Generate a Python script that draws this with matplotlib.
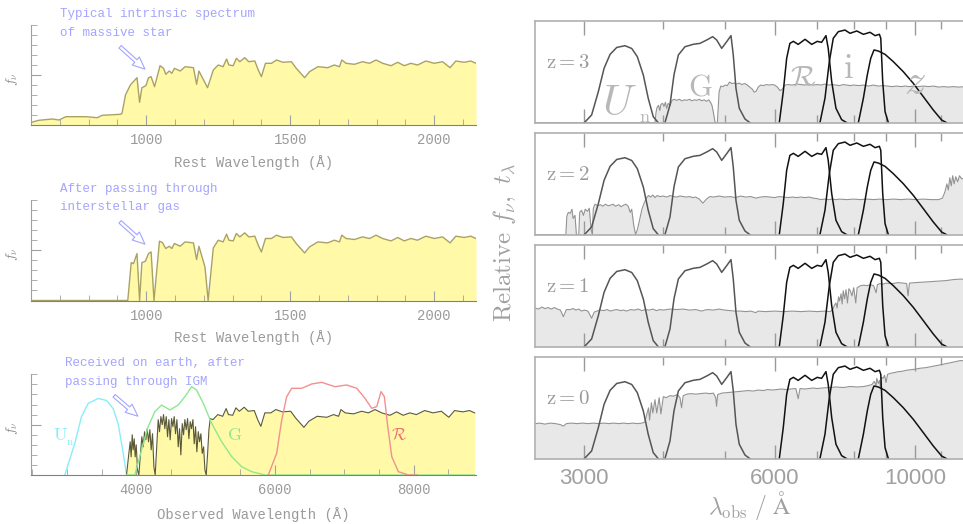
import matplotlib
matplotlib.use("Agg")
import matplotlib.pyplot as plt
from matplotlib.patches import FancyArrowPatch
from matplotlib.ticker import NullFormatter

plt.rcParams["mathtext.fontset"] = "cm"

# ---- left column: massive star spectrum (rest frame, panel units 0..1) ----
REST_WAVE = [602, 627, 674, 697, 721, 790, 830, 847, 911, 916, 928, 945, 968, 977, 985,
             999, 1008, 1017, 1029, 1048, 1060, 1068, 1080, 1089, 1098, 1118, 1135, 1164,
             1175, 1183, 1213, 1233, 1250, 1267, 1279, 1287, 1302, 1313, 1325, 1342, 1356,
             1377, 1389, 1400, 1414, 1435, 1452, 1475, 1504, 1521, 1550, 1567, 1596, 1630,
             1653, 1671, 1679, 1694, 1723, 1751, 1775, 1798, 1821, 1850, 1873, 1896, 1919,
             1942, 1971, 2000, 2029, 2055, 2075, 2104, 2127, 2145]
REST_FLUX = [0.027, 0.047, 0.06, 0.05, 0.083, 0.083, 0.073, 0.097, 0.107, 0.117, 0.30, 0.40,
             0.473, 0.227, 0.373, 0.393, 0.473, 0.483, 0.383, 0.593, 0.567, 0.507, 0.54, 0.517,
             0.567, 0.54, 0.583, 0.573, 0.407, 0.54, 0.373, 0.55, 0.60, 0.583, 0.66, 0.60,
             0.593, 0.667, 0.633, 0.673, 0.633, 0.64, 0.55, 0.483, 0.617, 0.617, 0.65, 0.627,
             0.633, 0.567, 0.473, 0.533, 0.583, 0.573, 0.60, 0.583, 0.65, 0.617, 0.607, 0.633,
             0.617, 0.65, 0.617, 0.593, 0.627, 0.593, 0.617, 0.60, 0.64, 0.617, 0.633, 0.573,
             0.64, 0.627, 0.64, 0.617]

# blue end after interstellar absorption
ISM_BLUE_WAVE = [600, 936, 948, 956, 968, 977, 985, 997, 1008, 1017, 1027, 1046, 1056, 1068]
ISM_BLUE_FLUX = [0, 0, 0.377, 0.367, 0.467, 0, 0.377, 0.39, 0.467, 0.483, 0, 0.59, 0.577, 0.517]
ISM_LYA_WAVE = [1204, 1215, 1233]
ISM_LYA_FLUX = [0.333, 0, 0.523]

# Lyman-alpha forest as observed (Angstrom)
FOREST_WAVE = [3858, 3892, 3911, 3925, 3940, 3954, 3969, 3983, 3998, 4017, 4036, 4060, 4079,
               4099, 4118, 4137, 4156, 4176, 4195, 4214, 4233, 4253, 4272, 4296, 4315, 4334,
               4354, 4373, 4392, 4411, 4431, 4450, 4469, 4488, 4508, 4527, 4546, 4565, 4585,
               4604, 4623, 4642, 4662, 4681, 4700, 4719, 4739, 4758, 4777, 4796, 4816, 4835,
               4854, 4873, 4893, 4912, 4931, 4950, 4970, 4989, 5008, 5028, 5047, 5066]
FOREST_FLUX = [0, 0.215, 0.33, 0.18, 0.40, 0.25, 0.36, 0.18, 0.30, 0.05, 0, 0.215, 0.38,
               0.28, 0.43, 0.35, 0.46, 0.33, 0.45, 0.25, 0.41, 0.08, 0, 0.31, 0.55, 0.43,
               0.58, 0.50, 0.60, 0.46, 0.58, 0.38, 0.55, 0.35, 0.56, 0.48, 0.58, 0.41, 0.55,
               0.28, 0.46, 0.20, 0.51, 0.40, 0.55, 0.45, 0.56, 0.36, 0.53, 0.46, 0.55, 0.31,
               0.48, 0.23, 0.43, 0.33, 0.41, 0.215, 0.28, 0.05, 0, 0.215, 0.45, 0.56]
Z_LBG = 3.14

# filters drawn in the observed-frame panel
UN_L_WAVE = [2968, 3112, 3209, 3304, 3448, 3570, 3665, 3737, 3795, 3859]
UN_L_T = [0, 0.315, 0.58, 0.71, 0.76, 0.74, 0.66, 0.51, 0.28, 0]
G_L_WAVE = [3860, 3978, 4075, 4170, 4267, 4364, 4484, 4604, 4700, 4797, 4869, 4965, 5086,
            5230, 5375, 5519, 5663, 5856, 8880]
G_L_T = [0, 0, 0.248, 0.48, 0.63, 0.695, 0.646, 0.695, 0.778, 0.877, 0.844, 0.712, 0.513,
         0.331, 0.182, 0.083, 0.033, 0, 0]
R_L_WAVE = [5903, 6024, 6097, 6169, 6241, 6385, 6530, 6674, 6866, 7035, 7180, 7300, 7396,
            7468, 7530, 7578, 7627, 7685, 7780, 7925, 8050]
R_L_T = [0, 0.215, 0.546, 0.778, 0.861, 0.861, 0.904, 0.92, 0.877, 0.894, 0.861, 0.76,
         0.662, 0.679, 0.828, 0.778, 0.48, 0.182, 0.033, 0, 0]

# ---- right column: filter curves (observed Angstrom) ----
UN_WAVE = [3000, 3081, 3157, 3224, 3295, 3376, 3479, 3565, 3638, 3719, 3786, 3856, 3927]
UN_T = [0, 0.076, 0.305, 0.535, 0.672, 0.74, 0.757, 0.73, 0.65, 0.469, 0.24, 0.059, 0]
G_WAVE = [4024, 4098, 4158, 4225, 4328, 4462, 4571, 4684, 4787, 4858, 4947, 5038, 5117,
          5160, 5211, 5274, 5385, 5484]
G_T = [0, 0.174, 0.469, 0.666, 0.747, 0.771, 0.78, 0.813, 0.846, 0.813, 0.731, 0.797,
       0.856, 0.666, 0.338, 0.142, 0.036, 0]
R_WAVE = [6101, 6190, 6267, 6341, 6422, 6536, 6701, 6866, 7006, 7117, 7231, 7291, 7384,
          7499, 7656, 7799]
R_T = [0, 0.305, 0.633, 0.78, 0.80, 0.77, 0.82, 0.77, 0.80, 0.79, 0.856, 0.731, 0.403,
       0.142, 0.03, 0]
I_WAVE = [7074, 7205, 7320, 7426, 7563, 7750, 7893, 8090, 8286, 8490, 8647, 8784, 8828,
          8891, 8967, 9076]
I_T = [0, 0.24, 0.60, 0.83, 0.895, 0.911, 0.879, 0.902, 0.869, 0.889, 0.856, 0.869, 0.83,
       0.403, 0.108, 0]
Z_WAVE = [8136, 8286, 8405, 8511, 8613, 8749, 8967, 9241, 9581, 9938, 10307, 10688, 11019,
          11222]
Z_T = [0, 0.24, 0.469, 0.633, 0.715, 0.705, 0.672, 0.60, 0.502, 0.387, 0.256, 0.125,
       0.026, 0]

# galaxy spectra at each redshift (observed Angstrom, panel units)
SPEC_Z3_WAVE = [2507, 3880, 3895, 3910, 3930, 3950, 3965, 3990, 4010, 4030, 4050, 4070, 4100,
                4130, 4160, 4200, 4240, 4280, 4320, 4360, 4400, 4440, 4480, 4520, 4560, 4600,
                4640, 4680, 4720, 4750, 4775, 4800, 4830, 4870, 4900, 4930, 4970, 5010, 5050,
                5090, 5130, 5170, 5220, 5270, 5320, 5380, 5430, 5480, 5530, 5570, 5610, 5650,
                5700, 5760, 5820, 5880, 5940, 6000, 6060, 6120, 6170, 6230, 6300, 6400, 6500,
                6600, 6700, 6800, 6900, 7000, 7100, 7200, 7300, 7400, 7500, 7600, 7700, 7800,
                7900, 8000, 8150, 8300, 8450, 8600, 8750, 8900, 9050, 9200, 9350, 9500, 9650,
                9800, 9950, 10100, 10300, 10500, 10700, 10900, 11100, 11300, 11500, 11700,
                12040]
SPEC_Z3_FLUX = [0, 0, 0.10, 0.15, 0.17, 0.12, 0.18, 0.19, 0.16, 0.20, 0.14, 0.19, 0.17,
                0.22, 0.23, 0.22, 0.23, 0.215, 0.225, 0.22, 0.23, 0.215, 0.225, 0.22, 0.23,
                0.215, 0.225, 0.21, 0.225, 0.20, 0.17, 0.10, 0, 0, 0.30, 0.36, 0.355, 0.37,
                0.365, 0.40, 0.385, 0.39, 0.38, 0.39, 0.375, 0.385, 0.37, 0.35, 0.33, 0.30,
                0.31, 0.35, 0.37, 0.365, 0.375, 0.37, 0.375, 0.37, 0.35, 0.315, 0.33, 0.37,
                0.375, 0.37, 0.38, 0.375, 0.37, 0.38, 0.37, 0.375, 0.37, 0.38, 0.37, 0.375,
                0.37, 0.365, 0.375, 0.37, 0.365, 0.37, 0.365, 0.37, 0.36, 0.37, 0.36, 0.365,
                0.36, 0.355, 0.36, 0.355, 0.36, 0.355, 0.36, 0.355, 0.36, 0.355, 0.36, 0.35,
                0.355, 0.35, 0.355, 0.35, 0.355]

SPEC_Z2_WAVE = [2507, 2805, 2815, 2830, 2850, 2868, 2880, 2900, 2915, 2940, 2950, 2970, 2990,
                3010, 3035, 3055, 3075, 3090, 3100, 3120, 3150, 3180, 3210, 3240, 3270, 3300,
                3330, 3360, 3400, 3430, 3460, 3490, 3520, 3545, 3565, 3590, 3615, 3640, 3670,
                3700, 3730, 3760, 3790, 3820, 3850, 3880, 3910, 3950, 4000, 4050, 4100, 4150,
                4200, 4250, 4300, 4350, 4400, 4450, 4500, 4560, 4620, 4680, 4740, 4800, 4900,
                5000, 5100, 5200, 5300, 5400, 5500, 5600, 5700, 5800, 5900, 6000, 6100, 6200,
                6300, 6400, 6500, 6600, 6700, 6800, 6900, 7000, 7100, 7200, 7300, 7400, 7500,
                7600, 7800, 8000, 8200, 8400, 8600, 8800, 9000, 9250, 9500, 9750, 10000,
                10300, 10600, 10900, 11050, 11150, 11230, 11290, 11350, 11410, 11470, 11530,
                11600, 11680, 11760, 11850, 12040]
SPEC_Z2_FLUX = [0, 0, 0.18, 0.22, 0.21, 0.25, 0.16, 0.19, 0, 0, 0.22, 0.24, 0.19, 0.25,
                0.23, 0.26, 0.05, 0, 0.26, 0.30, 0.285, 0.295, 0.28, 0.30, 0.285, 0.29, 0.30,
                0.28, 0.295, 0.275, 0.29, 0.30, 0.28, 0.22, 0.25, 0.10, 0, 0.05, 0.15, 0.25,
                0.31, 0.36, 0.385, 0.37, 0.39, 0.365, 0.385, 0.375, 0.38, 0.37, 0.385, 0.375,
                0.37, 0.38, 0.375, 0.37, 0.375, 0.365, 0.37, 0.35, 0.31, 0.35, 0.375, 0.37,
                0.38, 0.37, 0.375, 0.365, 0.38, 0.37, 0.375, 0.36, 0.37, 0.375, 0.37, 0.365,
                0.375, 0.37, 0.365, 0.37, 0.365, 0.37, 0.365, 0.37, 0.36, 0.355, 0.345, 0.35,
                0.345, 0.35, 0.345, 0.35, 0.345, 0.35, 0.345, 0.35, 0.345, 0.35, 0.345, 0.35,
                0.345, 0.35, 0.345, 0.35, 0.345, 0.345, 0.36, 0.42, 0.50, 0.44, 0.56, 0.48,
                0.58, 0.50, 0.57, 0.52, 0.58, 0.55, 0.56]

SPEC_Z1_WAVE = [2507, 2540, 2570, 2600, 2630, 2660, 2690, 2720, 2750, 2780, 2810, 2850, 2880,
                2910, 2940, 2970, 3000, 3040, 3081, 3110, 3140, 3180, 3220, 3260, 3300, 3340,
                3380, 3420, 3460, 3500, 3550, 3600, 3650, 3700, 3750, 3800, 3850, 3900, 3950,
                4000, 4100, 4200, 4300, 4400, 4500, 4600, 4650, 4700, 4800, 4900, 5000, 5100,
                5200, 5300, 5400, 5500, 5600, 5650, 5800, 6000, 6200, 6400, 6600, 6800, 7000,
                7200, 7350, 7420, 7460, 7500, 7530, 7570, 7600, 7640, 7670, 7700, 7740, 7780,
                7820, 7860, 7900, 7950, 8000, 8060, 8100, 8200, 8300, 8400, 8500, 8600, 8680,
                8720, 8800, 8900, 9000, 9200, 9400, 9600, 9700, 9750, 9800, 10000, 10300,
                10600, 10900, 11200, 11500, 11800, 12040]
SPEC_Z1_FLUX = [0.38, 0.37, 0.39, 0.375, 0.385, 0.37, 0.385, 0.37, 0.36, 0.295, 0.365,
                0.365, 0.375, 0.36, 0.37, 0.35, 0.36, 0.35, 0.28, 0.34, 0.35, 0.36, 0.355,
                0.365, 0.35, 0.36, 0.365, 0.355, 0.36, 0.35, 0.365, 0.36, 0.37, 0.355, 0.365,
                0.36, 0.37, 0.355, 0.365, 0.36, 0.37, 0.365, 0.37, 0.36, 0.365, 0.35, 0.36,
                0.365, 0.36, 0.37, 0.36, 0.355, 0.35, 0.35, 0.345, 0.35, 0.335, 0.35, 0.345,
                0.35, 0.345, 0.35, 0.345, 0.35, 0.345, 0.35, 0.345, 0.37, 0.41, 0.43, 0.38,
                0.49, 0.45, 0.52, 0.42, 0.55, 0.47, 0.56, 0.43, 0.57, 0.55, 0.50, 0.58, 0.43,
                0.58, 0.60, 0.605, 0.60, 0.61, 0.60, 0.53, 0.61, 0.62, 0.615, 0.625, 0.62,
                0.63, 0.625, 0.62, 0.50, 0.625, 0.63, 0.635, 0.64, 0.645, 0.65, 0.66, 0.665,
                0.66]

SPEC_Z0_WAVE = [2507, 2550, 2600, 2650, 2700, 2750, 2780, 2810, 2860, 2920, 2980, 3040, 3100,
                3160, 3220, 3280, 3340, 3400, 3460, 3520, 3580, 3640, 3700, 3740, 3764, 3790,
                3805, 3830, 3850, 3880, 3905, 3940, 3965, 4000, 4040, 4100, 4150, 4210, 4250,
                4275, 4300, 4360, 4420, 4500, 4580, 4660, 4740, 4800, 4840, 4856, 4875, 4950,
                5050, 5150, 5250, 5350, 5450, 5550, 5650, 5756, 5850, 5950, 6050, 6150, 6250,
                6350, 6480, 6536, 6580, 6700, 6800, 6900, 7000, 7150, 7300, 7500, 7700, 7900,
                8100, 8300, 8450, 8550, 8620, 8680, 8700, 8750, 8790, 8820, 8850, 8900, 8950,
                9000, 9050, 9150, 9250, 9400, 9550, 9700, 9850, 10000, 10200, 10400, 10600,
                10800, 11000, 11200, 11400, 11600, 11800, 12040]
SPEC_Z0_FLUX = [0.344, 0.35, 0.34, 0.35, 0.345, 0.335, 0.32, 0.345, 0.35, 0.345, 0.35,
                0.345, 0.35, 0.345, 0.35, 0.345, 0.35, 0.345, 0.35, 0.345, 0.35, 0.345, 0.35,
                0.36, 0.43, 0.50, 0.38, 0.55, 0.45, 0.58, 0.45, 0.60, 0.44, 0.61, 0.60, 0.62,
                0.615, 0.63, 0.60, 0.50, 0.62, 0.635, 0.64, 0.635, 0.64, 0.645, 0.64, 0.645,
                0.60, 0.515, 0.63, 0.645, 0.65, 0.655, 0.66, 0.665, 0.67, 0.665, 0.675, 0.67,
                0.68, 0.675, 0.68, 0.685, 0.68, 0.685, 0.69, 0.59, 0.69, 0.685, 0.69, 0.695,
                0.69, 0.695, 0.70, 0.705, 0.70, 0.71, 0.705, 0.71, 0.72, 0.73, 0.76, 0.72,
                0.79, 0.74, 0.77, 0.70, 0.80, 0.79, 0.82, 0.75, 0.83, 0.84, 0.845, 0.855,
                0.86, 0.87, 0.875, 0.88, 0.89, 0.895, 0.905, 0.915, 0.925, 0.935, 0.945,
                0.955, 0.965, 0.96]

REDSHIFTS = ["3", "2", "1", "0"]
RIGHT_SPECTRA = [(SPEC_Z3_WAVE, SPEC_Z3_FLUX), (SPEC_Z2_WAVE, SPEC_Z2_FLUX),
                 (SPEC_Z1_WAVE, SPEC_Z1_FLUX), (SPEC_Z0_WAVE, SPEC_Z0_FLUX)]

MONO = "Liberation Mono"
GREY_TXT = "#9a9a9a"
NOTE_BLUE = "#a4a4ff"
YELLOW = "#fff9a8"
OLIVE = "#aaa263"

W, H = 963, 524
fig = plt.figure(figsize=(W / 100, H / 100), dpi=100)


def fig_box(left, top, right, bottom):
    return [left / W, 1 - bottom / H, (right - left) / W, (bottom - top) / H]


def style_left(ax, xlim, major, minor):
    ax.set_xlim(*xlim)
    ax.set_ylim(0, 1)
    for side in ["top", "right"]:
        ax.spines[side].set_visible(False)
    ax.spines["left"].set_color("#a0a0a0")
    ax.spines["bottom"].set_color("#808080")
    ax.set_xticks(major, labels=[str(m) for m in major])
    ax.set_xticks(minor, minor=True)
    ax.set_yticks([0.5])
    ax.set_yticks([i / 10 for i in range(11)], minor=True)
    ax.set_yticklabels([])
    ax.tick_params(which="both", direction="in", colors="#a0a0a0", labelcolor=GREY_TXT)
    ax.tick_params(which="major", length=7)
    ax.tick_params(which="minor", length=4)
    ax.tick_params(axis="x", pad=6)
    for lab in ax.get_xticklabels():
        lab.set_fontfamily(MONO)
        lab.set_fontsize(10)


def note(lines, x, ys, arrow_from, arrow_to):
    for line, y in zip(lines, ys):
        fig.text(x / W, 1 - y / H, line, fontfamily=MONO, fontsize=9, color=NOTE_BLUE,
                 va="center", ha="left")
    arr = FancyArrowPatch((arrow_from[0] / W, 1 - arrow_from[1] / H),
                          (arrow_to[0] / W, 1 - arrow_to[1] / H),
                          transform=fig.transFigure, mutation_scale=11,
                          arrowstyle="simple,head_length=0.8,head_width=0.7,tail_width=0.22",
                          fc="none", ec=NOTE_BLUE, lw=0.8)
    fig.patches.append(arr)


# top left: intrinsic spectrum
ax1 = fig.add_axes(fig_box(31, 25, 476, 125))
ax1.fill_between(REST_WAVE, REST_FLUX, color=YELLOW, lw=0)
ax1.plot(REST_WAVE, REST_FLUX, color=OLIVE, lw=1.0)
style_left(ax1, (600, 2145), [1000, 1500, 2000], list(range(700, 2200, 100)))

# middle left: after interstellar gas
ism_wave = (ISM_BLUE_WAVE + [w for w in REST_WAVE if 1075 <= w <= 1190]
            + ISM_LYA_WAVE + [w for w in REST_WAVE if w >= 1240])
ism_flux = (ISM_BLUE_FLUX + [f for w, f in zip(REST_WAVE, REST_FLUX) if 1075 <= w <= 1190]
            + ISM_LYA_FLUX + [f for w, f in zip(REST_WAVE, REST_FLUX) if w >= 1240])
ax2 = fig.add_axes(fig_box(31, 200, 476, 300.5))
ax2.fill_between(ism_wave, ism_flux, color=YELLOW, lw=0)
ax2.plot(ism_wave, ism_flux, color=OLIVE, lw=1.0)
style_left(ax2, (600, 2145), [1000, 1500, 2000], list(range(700, 2200, 100)))

# bottom left: observed after IGM
obs_wave = FOREST_WAVE + [w * (1 + Z_LBG) for w in REST_WAVE if w >= 1225]
obs_flux = FOREST_FLUX + [f for w, f in zip(REST_WAVE, REST_FLUX) if w >= 1225]
ax3 = fig.add_axes(fig_box(31, 374.3, 476, 475))
ax3.plot(UN_L_WAVE, UN_L_T, color="#88eef8", lw=1.0)
ax3.fill_between(obs_wave, obs_flux, color=YELLOW, lw=0)
ax3.plot(obs_wave, obs_flux, color="#5a5a38", lw=0.8)
ax3.plot(G_L_WAVE, G_L_T, color="#8ee88e", lw=1.0)
ax3.plot(R_L_WAVE, R_L_T, color="#f29090", lw=1.0)
style_left(ax3, (2480, 8900), [4000, 6000, 8000], list(range(2500, 9000, 500)))
ax3.text(2905, 0.40, r"$\mathrm{U}$", color="#88eef8", fontsize=13, ha="center", va="center")
ax3.text(3045, 0.33, r"$\mathrm{n}$", color="#88eef8", fontsize=8, ha="center", va="center")
ax3.text(5420, 0.40, r"$\mathrm{G}$", color="#8ee88e", fontsize=13, ha="center", va="center")
ax3.text(7790, 0.40, r"$\mathcal{R}$", color="#f07070", fontsize=12, ha="center", va="center")

for y in [163, 338, 515]:
    label = "Observed Wavelength (Å)" if y == 515 else "Rest Wavelength (Å)"
    fig.text(253.5 / W, 1 - y / H, label, fontfamily=MONO, fontsize=10, color=GREY_TXT,
             ha="center", va="center")
for y in [79, 254, 428]:
    fig.text(12.5 / W, 1 - y / H, r"$f_\nu$", fontsize=10, color="#8a8a8a", rotation=90,
             ha="center", va="center")

note(["Typical intrinsic spectrum", "of massive star"], 60, [14, 33], (118, 45), (147, 71))
note(["After passing through", "interstellar gas"], 60, [189, 207], (118, 220), (147, 246))
note(["Received on earth, after", "passing through IGM"], 65, [363, 382], (112, 394), (140, 418))

# right column
panel_tops = [21, 133, 245, 357]
for k, (zlab, (sw, sf)) in enumerate(zip(REDSHIFTS, RIGHT_SPECTRA)):
    top = panel_tops[k]
    ax = fig.add_axes(fig_box(535, top, 966, top + 101.7))
    ax.set_xscale("log")
    ax.set_xlim(2507, 12040)
    ax.set_ylim(0, 1)
    ax.fill_between(sw, sf, color="#e8e8e8", lw=0)
    ax.plot(sw, sf, color="#939393", lw=0.8)
    for fw, ft, col in [(UN_WAVE, UN_T, "#555555"), (G_WAVE, G_T, "#555555"),
                        (R_WAVE, R_T, "#111111"), (I_WAVE, I_T, "#111111"),
                        (Z_WAVE, Z_T, "#111111")]:
        ax.plot(fw, ft, color=col, lw=1.1)
    for spine in ax.spines.values():
        spine.set_color("#b0b0b0")
        spine.set_linewidth(1.2)
    ax.set_xticks([3000, 6000, 10000], labels=["3000", "6000", "10000"])
    ax.set_xticks([4000, 5000, 7000, 8000, 9000, 11000], minor=True)
    ax.xaxis.set_minor_formatter(NullFormatter())
    ax.set_yticks([])
    ax.tick_params(axis="x", which="both", direction="in", top=True, bottom=True,
                   colors="#9a9a9a", labelcolor="#a0a0a0", labelsize=16, pad=7,
                   labelbottom=(k == 3))
    ax.tick_params(axis="x", which="major", length=10, width=1.0)
    ax.tick_params(axis="x", which="minor", length=6, width=1.0)
    for lab in ax.get_xticklabels():
        lab.set_fontfamily("Liberation Sans")
    ax.text(0.025, 0.6, r"$\mathrm{z=%s}$" % zlab, transform=ax.transAxes, fontsize=15,
            color="#9a9a9a", ha="left", va="center")
    if k == 0:
        big = "#b8b8b8"
        ax.text(0.195, 0.194, r"$U$", transform=ax.transAxes, fontsize=31, color=big,
                ha="center", va="center")
        ax.text(0.255, 0.06, r"$\mathrm{n}$", transform=ax.transAxes, fontsize=13,
                color=big, ha="center", va="center")
        ax.text(0.383, 0.351, r"$\mathrm{G}$", transform=ax.transAxes, fontsize=22,
                color=big, ha="center", va="center")
        ax.text(0.622, 0.459, r"$\mathcal{R}$", transform=ax.transAxes, fontsize=21,
                color=big, ha="center", va="center")
        ax.text(0.726, 0.538, r"$\mathrm{i}$", transform=ax.transAxes, fontsize=25,
                color=big, ha="center", va="center")
        ax.text(0.882, 0.40, r"$z$", transform=ax.transAxes, fontsize=31, color=big,
                ha="center", va="center")

fig.text(505 / W, 1 - 243 / H, r"$\mathrm{Relative}\ f_\nu,\ t_\lambda$", rotation=90,
         fontsize=18, color="#a0a0a0", ha="center", va="center")
fig.text(750 / W, 1 - 506 / H, r"$\lambda_{\mathrm{obs}}\ /\ \mathrm{\AA}$", fontsize=17,
         color="#a0a0a0", ha="center", va="center")

fig.savefig("out.png", dpi=100)
